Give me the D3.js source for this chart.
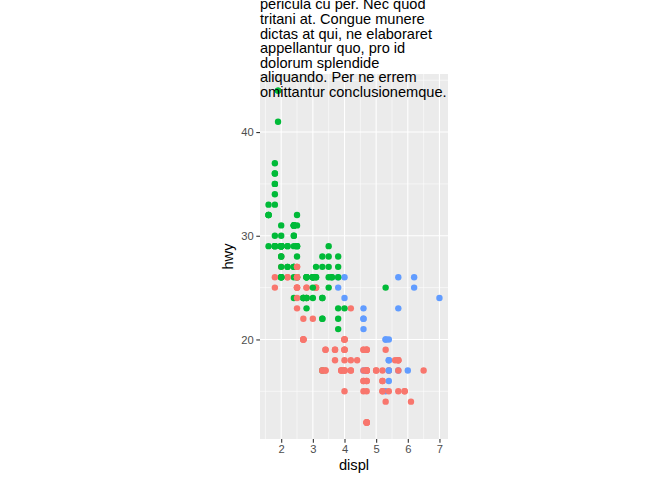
<!DOCTYPE html>
<html>
<head>
<meta charset="utf-8">
<script src="https://cdn.jsdelivr.net/npm/d3@7"></script>
<style>
  body { margin: 0; background: #fff; }
  svg { font-family: "Liberation Sans", Arial, sans-serif; display: block; }
</style>
</head>
<body>
<script>
// mpg data: engine displacement, highway mpg, drive train (dataset row order)
const displ = [1.8,1.8,2.0,2.0,2.8,2.8,3.1,1.8,1.8,2.0,2.0,2.8,2.8,3.1,3.1,2.8,3.1,4.2,
  5.3,5.3,5.3,5.7,6.0,5.7,5.7,6.2,6.2,7.0,5.3,5.3,5.7,6.5,2.4,2.4,3.1,3.5,3.6,
  2.4,3.0,3.3,3.3,3.3,3.3,3.3,3.8,3.8,3.8,4.0,3.7,3.7,3.9,3.9,4.7,4.7,4.7,5.2,5.2,
  3.9,4.7,4.7,4.7,5.2,5.7,5.9,4.7,4.7,4.7,4.7,4.7,4.7,5.2,5.2,5.7,5.9,
  4.6,5.4,5.4,4.0,4.0,4.0,4.0,4.6,5.0,4.2,4.2,4.6,4.6,4.6,5.4,5.4,
  3.8,3.8,4.0,4.0,4.6,4.6,4.6,4.6,5.4,1.6,1.6,1.6,1.6,1.6,1.8,1.8,1.8,2.0,
  2.4,2.4,2.4,2.4,2.5,2.5,3.3,2.0,2.0,2.0,2.0,2.7,2.7,2.7,
  3.0,3.7,4.0,4.7,4.7,4.7,5.7,6.1,4.0,4.2,4.4,4.6,5.4,5.4,5.4,4.0,4.0,4.6,5.0,
  2.4,2.4,2.5,2.5,3.5,3.5,3.0,3.0,3.5,3.3,3.3,4.0,5.6,3.1,3.8,3.8,3.8,5.3,
  2.5,2.5,2.5,2.5,2.5,2.5,2.2,2.2,2.5,2.5,2.5,2.5,2.5,2.5,
  2.7,2.7,3.4,3.4,4.0,4.7,2.2,2.2,2.4,2.4,3.0,3.0,3.5,2.2,2.2,2.4,2.4,3.0,3.0,3.3,
  1.8,1.8,1.8,1.8,1.8,4.7,5.7,2.7,2.7,2.7,3.4,3.4,4.0,4.0,
  2.0,2.0,2.0,2.0,2.8,1.9,2.0,2.0,2.0,2.0,2.5,2.5,2.8,2.8,1.9,1.9,2.0,2.0,2.5,2.5,
  1.8,1.8,2.0,2.0,2.8,2.8,3.6];
const hwy = [29,29,31,30,26,26,27,26,25,28,27,25,25,25,25,24,25,23,
  20,15,20,17,17,26,23,26,25,24,19,14,15,17,27,30,26,29,26,
  24,24,22,22,24,24,17,22,21,23,23,19,18,17,17,19,19,12,17,15,
  17,17,12,17,16,18,15,16,12,17,17,16,12,15,16,17,15,
  17,17,18,17,19,17,19,19,17,17,17,16,16,17,15,17,
  26,25,26,24,21,22,23,22,20,33,32,32,29,32,34,36,36,29,
  26,27,30,31,26,26,28,26,29,28,27,24,24,24,
  22,19,20,17,12,19,18,14,15,18,18,15,17,16,18,17,19,19,17,
  29,27,31,32,27,26,26,25,25,17,17,20,18,26,26,27,28,25,
  25,24,27,25,26,23,26,26,26,26,25,27,25,27,
  20,20,19,17,20,17,29,27,31,31,26,26,28,27,29,31,31,26,26,27,
  30,33,35,37,35,15,18,20,20,22,17,19,18,20,
  29,26,29,29,24,44,29,26,29,29,29,29,23,24,44,41,29,26,28,29,
  29,29,28,29,26,26,26];
const drv = [
  ..."fffffff44444444444", ..."rrrrrrrrrr4444fffff", ..."fffffffffff444444444",
  ..."44444444444444444", ..."rrr4444444444444", ..."rrrrrrrrrfffffffff",
  ..."ffffffffffffff", ..."444444444444rrr4444", ..."fffffffff4444fffff",
  ..."44444444444444", ..."444444ffffffffffffff", ..."fffff444444444",
  ..."ffffffffffffffffffff", ..."fffffff"];
const drvLevels = ["4", "f", "r"];
const drvColors = ["#F8766D", "#00BA38", "#619CFF"];
const xTicks = [2, 3, 4, 5, 6, 7];
const yTicks = [20, 30, 40];
const titleLines = [
  "pericula cu per. Nec quod",
  "tritani at. Congue munere",
  "dictas at qui, ne elaboraret",
  "appellantur quo, pro id",
  "dolorum splendide",
  "aliquando. Per ne errem",
  "omittantur conclusionemque."
];

const W = 672, H = 480;
const panel = {left: 260, right: 448, top: 74, bottom: 439};

const cars = displ.map((d, i) => ({displ: d, hwy: hwy[i], drv: drv[i]}));

const svg = d3.select("body").append("svg")
  .attr("width", W)
  .attr("height", H);

// ggplot style 5% expansion
const expand = ext => { const p = (ext[1] - ext[0]) * 0.05; return [ext[0] - p, ext[1] + p]; };

const x = d3.scaleLinear()
  .domain(expand(d3.extent(displ)))
  .range([panel.left, panel.right]);
const y = d3.scaleLinear()
  .domain(expand(d3.extent(hwy)))
  .range([panel.bottom, panel.top]);
const color = d3.scaleOrdinal().domain(drvLevels).range(drvColors);

// panel background
svg.append("rect")
  .attr("x", panel.left)
  .attr("y", panel.top)
  .attr("width", panel.right - panel.left)
  .attr("height", panel.bottom - panel.top)
  .attr("fill", "#EBEBEB");

// minor grid: midpoints between major breaks
const xMinor = d3.range(1.5, 8, 1).filter(v => v > x.domain()[0] && v < x.domain()[1]);
const yMinor = d3.range(15, 50, 10).filter(v => v > y.domain()[0] && v < y.domain()[1]);

const grid = svg.append("g");
grid.selectAll(".xmin").data(xMinor).enter().append("line")
  .attr("x1", d => x(d)).attr("x2", d => x(d))
  .attr("y1", panel.top).attr("y2", panel.bottom)
  .attr("stroke", "#fff").attr("stroke-width", 0.55);
grid.selectAll(".ymin").data(yMinor).enter().append("line")
  .attr("y1", d => y(d)).attr("y2", d => y(d))
  .attr("x1", panel.left).attr("x2", panel.right)
  .attr("stroke", "#fff").attr("stroke-width", 0.55);
grid.selectAll(".xmaj").data(xTicks).enter().append("line")
  .attr("x1", d => x(d)).attr("x2", d => x(d))
  .attr("y1", panel.top).attr("y2", panel.bottom)
  .attr("stroke", "#fff").attr("stroke-width", 1.1);
grid.selectAll(".ymaj").data(yTicks).enter().append("line")
  .attr("y1", d => y(d)).attr("y2", d => y(d))
  .attr("x1", panel.left).attr("x2", panel.right)
  .attr("stroke", "#fff").attr("stroke-width", 1.1);

// points
svg.append("g").selectAll("circle")
  .data(cars)
  .enter().append("circle")
  .attr("cx", d => x(d.displ))
  .attr("cy", d => y(d.hwy))
  .attr("r", 3.2)
  .attr("fill", d => color(d.drv));

// axes
const xAxis = svg.append("g")
  .attr("transform", `translate(0,${panel.bottom})`)
  .call(d3.axisBottom(x).tickValues(xTicks).tickSize(3.7).tickPadding(2.5).tickFormat(d3.format("d")));
const yAxis = svg.append("g")
  .attr("transform", `translate(${panel.left},0)`)
  .call(d3.axisLeft(y).tickValues(yTicks).tickSize(3.7).tickPadding(2.5).tickFormat(d3.format("d")));

[xAxis, yAxis].forEach(a => {
  a.select(".domain").remove();
  a.selectAll(".tick line").attr("stroke", "#333333").attr("stroke-width", 1.1);
  a.selectAll(".tick text")
    .attr("fill", "#4D4D4D")
    .style("font-size", "11.2px")
    .style("font-family", "Liberation Sans, Arial, sans-serif");
});

// axis titles
svg.append("text")
  .text("displ")
  .attr("x", (panel.left + panel.right) / 2)
  .attr("y", 470)
  .attr("text-anchor", "middle")
  .style("font-size", "14.7px")
  .attr("fill", "#000");
svg.append("text")
  .text("hwy")
  .attr("transform", `translate(233,${(panel.top + panel.bottom) / 2}) rotate(-90)`)
  .attr("text-anchor", "middle")
  .style("font-size", "14.7px")
  .attr("fill", "#000");

// title, overflowing the top of the page
svg.append("g").selectAll("text")
  .data(titleLines)
  .enter().append("text")
  .text(d => d)
  .attr("x", panel.left)
  .attr("y", (d, i) => 97 - (titleLines.length - 1 - i) * 14.6)
  .style("font-size", "14.6px")
  .attr("fill", "#000");
</script>
</body>
</html>
